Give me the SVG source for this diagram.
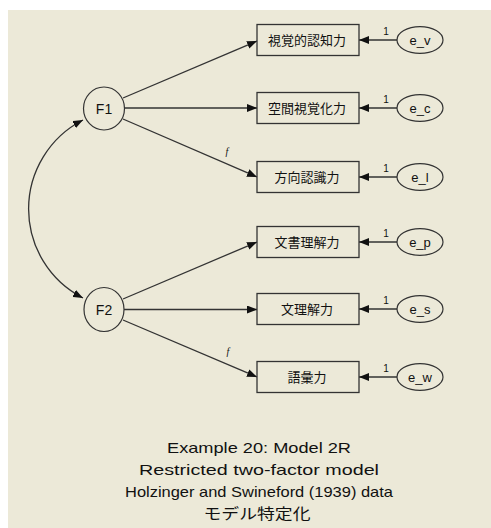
<svg xmlns="http://www.w3.org/2000/svg" width="491" height="528" viewBox="0 0 491 528">
<defs>
<marker id="ah" viewBox="0 0 10 8" refX="10" refY="4" markerWidth="10" markerHeight="8" markerUnits="userSpaceOnUse" orient="auto-start-reverse">
<path d="M0,0 L10,4 L0,8 Z" fill="#111"/>
</marker>
<style>
.ln{stroke:#333;stroke-width:1.3;fill:none;marker-end:url(#ah)}
.bx{fill:none;stroke:#333;stroke-width:1.3}
.el{fill:none;stroke:#333;stroke-width:1.2}
.jp{font-family:"Noto Sans CJK JP","Noto Sans CJK SC",sans-serif;font-size:13px;fill:#111;text-anchor:middle}
.lt{font-family:"Liberation Sans","DejaVu Sans",sans-serif;fill:#111;text-anchor:middle}
.one{font-family:"Liberation Sans",sans-serif;font-size:10px;fill:#111;text-anchor:middle}
.f{font-family:"Liberation Serif",serif;font-style:italic;font-size:10px;fill:#111;text-anchor:middle}
.cap{font-family:"Liberation Sans","Noto Sans CJK JP",sans-serif;font-size:15px;fill:#111;text-anchor:middle}
</style>
</defs>
<rect x="0" y="0" width="491" height="528" fill="#ffffff"/>
<rect x="8" y="10" width="483" height="518" fill="#ECE9D8"/>

<g id="connectors">
<path class="ln" d="M83,120 A100,100 0 0,0 83,298" style="marker-start:url(#ah)"/>
<line class="ln" x1="123" y1="98" x2="257" y2="41"/>
<line class="ln" x1="125" y1="108" x2="257" y2="108"/>
<line class="ln" x1="123" y1="119" x2="257" y2="177"/>
<line class="ln" x1="123" y1="299" x2="257" y2="242"/>
<line class="ln" x1="124" y1="309.5" x2="257" y2="309.5"/>
<line class="ln" x1="123" y1="320" x2="257" y2="377"/>
<line class="ln" x1="397" y1="40" x2="359" y2="40"/>
<line class="ln" x1="397" y1="108" x2="359" y2="108"/>
<line class="ln" x1="397" y1="177" x2="359" y2="177"/>
<line class="ln" x1="397" y1="242" x2="359" y2="242"/>
<line class="ln" x1="397" y1="309" x2="359" y2="309"/>
<line class="ln" x1="397" y1="377" x2="359" y2="377"/>
<text class="f" x="227" y="155">f</text>
<text class="f" x="228" y="355">f</text>
<text class="one" x="386" y="35">1</text>
<text class="one" x="386" y="103">1</text>
<text class="one" x="386" y="172">1</text>
<text class="one" x="386" y="237">1</text>
<text class="one" x="386" y="304">1</text>
<text class="one" x="386" y="372">1</text>
</g>

<g id="F1"><ellipse class="el" cx="104" cy="108.5" rx="20.5" ry="21.5"/><text class="lt" x="104" y="113.5" font-size="14">F1</text></g>
<g id="F2"><ellipse class="el" cx="104" cy="309.5" rx="20" ry="22"/><text class="lt" x="104" y="314.5" font-size="14">F2</text></g>

<g id="visperc"><rect class="bx" x="257" y="24.5" width="102" height="31"/><text class="jp" x="307" y="44.5">視覚的認知力</text></g>
<g id="cubes"><rect class="bx" x="257" y="92.5" width="102" height="31"/><text class="jp" x="307" y="112.5">空間視覚化力</text></g>
<g id="lozenges"><rect class="bx" x="257" y="161.5" width="102" height="31"/><text class="jp" x="307" y="181.5">方向認識力</text></g>
<g id="paragraph"><rect class="bx" x="257" y="226.5" width="102" height="31"/><text class="jp" x="307" y="246.5">文書理解力</text></g>
<g id="sentence"><rect class="bx" x="257" y="293.5" width="102" height="31"/><text class="jp" x="307" y="313.5">文理解力</text></g>
<g id="wordmean"><rect class="bx" x="257" y="361.5" width="102" height="31"/><text class="jp" x="307" y="381.5">語彙力</text></g>

<g id="e_v"><ellipse class="el" cx="420" cy="40" rx="23" ry="13.3"/><text class="lt" x="420" y="44.5" font-size="13">e_v</text></g>
<g id="e_c"><ellipse class="el" cx="420" cy="108" rx="23" ry="13.3"/><text class="lt" x="420" y="112.5" font-size="13">e_c</text></g>
<g id="e_l"><ellipse class="el" cx="420" cy="177" rx="23" ry="13.3"/><text class="lt" x="420" y="181.5" font-size="13">e_l</text></g>
<g id="e_p"><ellipse class="el" cx="420" cy="242" rx="23" ry="13.3"/><text class="lt" x="420" y="246.5" font-size="13">e_p</text></g>
<g id="e_s"><ellipse class="el" cx="420" cy="309" rx="23" ry="13.3"/><text class="lt" x="420" y="313.5" font-size="13">e_s</text></g>
<g id="e_w"><ellipse class="el" cx="420" cy="377" rx="23" ry="13.3"/><text class="lt" x="420" y="381.5" font-size="13">e_w</text></g>

<g id="caption">
<text class="cap" x="259" y="453" textLength="184" lengthAdjust="spacingAndGlyphs">Example 20: Model 2R</text>
<text class="cap" x="259" y="475" textLength="240" lengthAdjust="spacingAndGlyphs">Restricted two-factor model</text>
<text class="cap" x="259" y="497" textLength="268" lengthAdjust="spacingAndGlyphs">Holzinger and Swineford (1939) data</text>
<text class="cap" x="257" y="519" textLength="107" lengthAdjust="spacingAndGlyphs">モデル特定化</text>
</g>
</svg>
